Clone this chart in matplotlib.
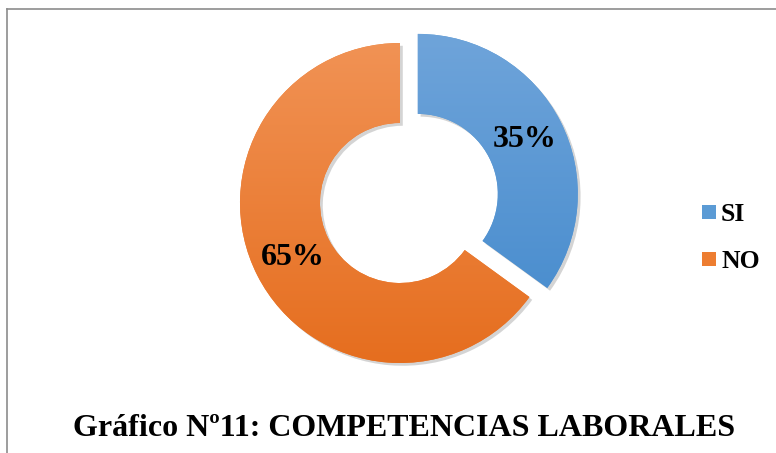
import numpy as np
import matplotlib
matplotlib.use("Agg")
import matplotlib.pyplot as plt
from matplotlib.patches import Rectangle
from matplotlib.lines import Line2D
import matplotlib.patheffects as pe
from matplotlib.colors import LinearSegmentedColormap

categories = ["SI", "NO"]
values = [35, 65]
pct_labels = ["35%", "65%"]
title = "Gráfico Nº11: COMPETENCIAS LABORALES"

top_colors = ["#72a6db", "#f2965a"]
bottom_colors = ["#3f87cb", "#e56c1c"]
mid_colors = ["#5b9bd5", "#ed7d31"]

W, H = 776, 453
fig = plt.figure(figsize=(W / 100, H / 100), dpi=100)
ax = fig.add_axes([0, 0, 1, 1])
R = 160.0
cx, cy = 400.0, 203.0

serif = ["Liberation Serif", "DejaVu Serif"]

wedges, _ = ax.pie(values, startangle=90, counterclock=False,
                   explode=[0.125, 0], radius=1.0,
                   colors=mid_colors,
                   wedgeprops=dict(width=0.5, linewidth=0),
                   frame=True)

for i, w in enumerate(wedges):
    w.set_path_effects([pe.SimplePatchShadow(offset=(2, -2), alpha=0.25, shadow_rgbFace="#555555"), pe.Normal()])
    cmap = LinearSegmentedColormap.from_list("g%d" % i, [bottom_colors[i], top_colors[i]])
    grad = np.linspace(0, 1, 256).reshape(-1, 1)
    im = ax.imshow(grad, cmap=cmap, origin="lower", aspect="auto",
                   extent=(-1.3, 1.3, -1.1, 1.2), zorder=w.get_zorder() + 0.5,
                   interpolation="bilinear")
    im.set_clip_path(w)

ax.set_xlim(-cx / R, (W - cx) / R)
ax.set_ylim(-(H - cy) / R, cy / R)
ax.set_aspect("auto")
ax.axis("off")

# percentage labels
total = sum(values)
start = 90.0
explode = [0.125, 0]
for i, v in enumerate(values):
    span = 360.0 * v / total
    mid = np.deg2rad(start - span / 2)
    r = 0.75 + explode[i]
    ax.text(r * np.cos(mid), r * np.sin(mid), pct_labels[i], ha="center", va="center",
            fontsize=23, fontweight="bold", family=serif, color="black", zorder=10)
    start -= span

# legend
sq = 14
leg_y = [212, 259]
for i, lab in enumerate(categories):
    fig.add_artist(Rectangle(((709 - sq / 2) / W, 1 - (leg_y[i] + sq / 2) / H), sq / W, sq / H,
                             transform=fig.transFigure, facecolor=mid_colors[i], edgecolor="none"))
    fig.text(721 / W, 1 - (leg_y[i] + 9) / H, lab, ha="left", va="baseline",
             fontsize=18.5, fontweight="bold", family=serif, color="black")

# title
fig.text(404 / W, 1 - 436 / H, title, ha="center", va="baseline",
         fontsize=23, fontweight="bold", family=serif, color="black")

# border
fig.add_artist(Line2D([7 / W, 7 / W], [0, 1 - 9 / H], transform=fig.transFigure, color="#8c8c8c", lw=1.2))
fig.add_artist(Line2D([7 / W, 1], [1 - 9 / H, 1 - 9 / H], transform=fig.transFigure, color="#8c8c8c", lw=1.2))

fig.savefig("out.png", dpi=100, facecolor="white")
